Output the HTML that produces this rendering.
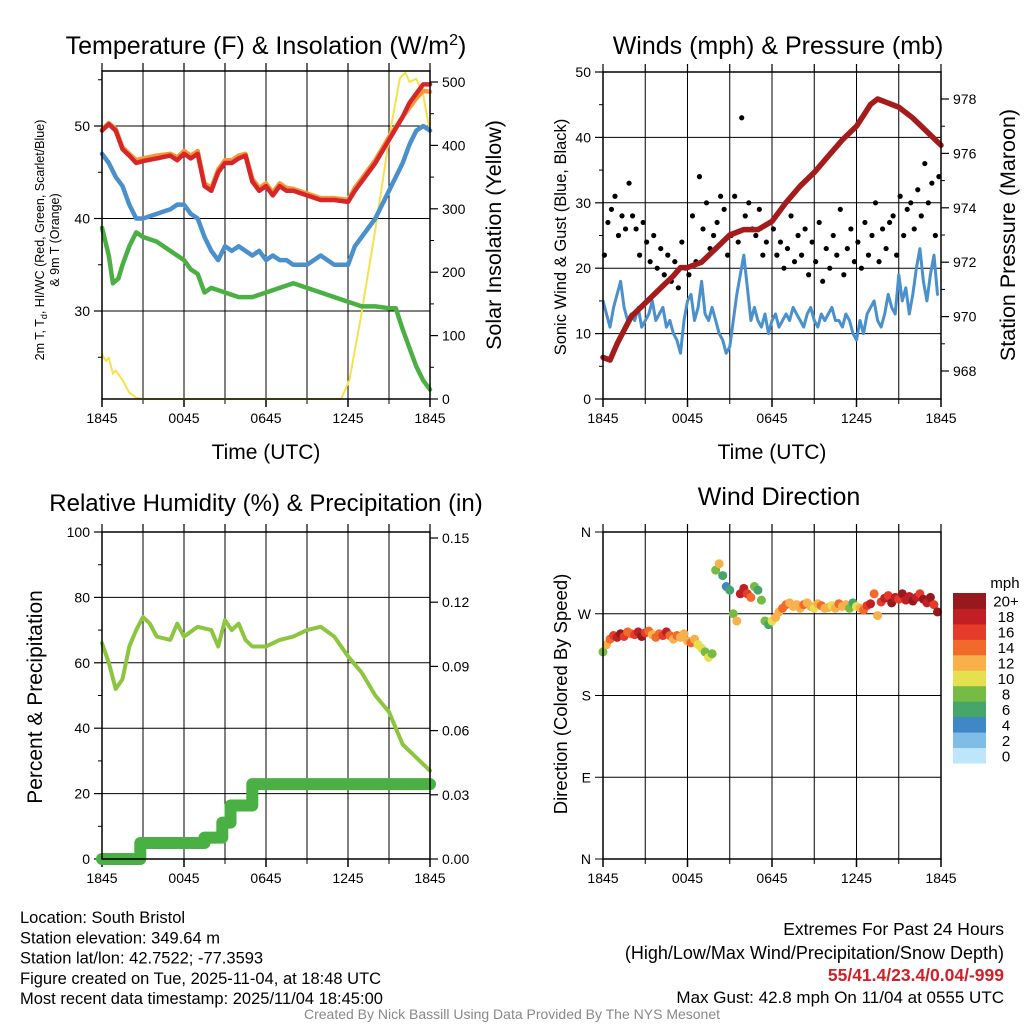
<!DOCTYPE html>
<html><head><meta charset="utf-8">
<style>
html,body{margin:0;padding:0;background:#fff;}
svg{display:block;font-family:"Liberation Sans",Arial,sans-serif;}
</style></head>
<body>
<svg id="s" width="1024" height="1024" viewBox="0 0 1024 1024" xmlns="http://www.w3.org/2000/svg"></svg>
<script>
// ---------- DATA ----------
const xTickLabels = ["1845","0045","0645","1245","1845"];
const tHours = [0,0.5,1,1.5,2,2.5,3,4,5,5.5,6,6.5,7,7.5,8,8.5,9,9.5,10,10.5,11,11.5,12,12.5,13,13.5,14,15,16,17,18,18.5,19,20,21,22,22.5,23,23.5,24];
const tempRed = [49.5,50.2,49.5,47.5,46.8,46,46.2,46.5,46.8,46.3,47,46.5,47,43.5,43,45,46,46,46.5,46.8,44,43,43.5,42.5,43.5,43,43,42.5,42,42,41.8,43,44,46,48.5,51,52.5,53.5,54.5,54.5];
const tempOrange = [49.6,50.3,49.7,47.7,47,46.3,46.5,46.8,47,46.6,47.3,46.8,47.3,43.8,43.3,45.3,46.3,46.3,46.8,47,44.3,43.3,43.8,42.8,43.8,43.3,43.2,42.7,42.2,42.2,42,43.3,44.3,46.3,48.8,51,52,53,53.8,53.7];
const chillBlue = [47,46,44.5,43.5,41.5,40,40,40.5,41,41.5,41.5,40.5,40,38,36.5,35.5,37,36.5,37,36.5,36,36.5,35.5,36,35.5,35.5,35,35,36,35,35,37,38,40,43,46,48,49.5,50,49.5];
const gHours = [0,0.5,0.8,1.2,1.5,2,2.5,3,4,5,6,6.5,7,7.5,8,9,10,11,12,13,14,15,16,17,18,19,20,21,21.5,22,22.5,23,23.5,24];
const dewGreen = [39,36,33,33.5,35,37,38.5,38,37.5,36.5,35.5,34.5,34,32,32.5,32,31.5,31.5,32,32.5,33,32.5,32,31.5,31,30.5,30.5,30.3,30.3,28,26,24,22.5,21.5];
const sHours = [0,0.3,0.5,0.8,1,1.5,2,2.5,3,17.5,18.1,18.9,20,21.1,21.8,22.2,22.5,23,23.5,24];
const solar = [70,60,65,40,45,30,10,2,0,0,30,124,267,424,506,515,500,505,480,420];
const tempTicks = [30,40,50];
const solarTicks = [0,100,200,300,400,500];

const windSpeed = [15,13,11,14,16,18,14,12, 13,12,14,11,12,13,15,12, 13,14,11,12,10,9,7,12, 15,16,12,14,18,13,12,14, 12,10,9,7,8,12,16,19, 22,17,12,14,12,11,13,10, 12,13,11,12,13,12,14,13, 12,11,13,14,12,11,13,12, 13,14,12,12,11,13,12,10, 9,12,10,13,14,15,12,11, 13,16,14,13,19,15,17,13, 16,20,23,18,15,19,22,16];
const windGust = [22,27,29,31,25,28,26,33, 28,26,22,27,24,21,25,20, 23,19,22,18,21,17,24,20, 19,28,21,34,26,30,23,25, 27,31,29,22,25,31,24,43, 28,30,26,25,29,22,24,27, 26,22,24,20,23,28,21,25, 22,26,19,24,21,27,18,23, 20,25,22,29,19,23,26,21, 24,20,27,22,25,30,21,26, 23,27,28,22,31,25,29,30, 26,32,28,36,30,33,25,34];
const pHours = [0,0.5,1,1.5,2,3,4,5,5.5,6,7,8,9,10,11,12,13,14,15,16,17,18,19,19.5,20,21,22,23,24];
const pressure = [968.5,968.4,969,969.5,970,970.5,971,971.5,971.8,971.8,972,972.5,973,973.2,973.2,973.5,974.2,974.8,975.3,975.9,976.5,977,977.8,978,977.9,977.7,977.3,976.8,976.3];
const windTicks = [0,10,20,30,40,50];
const presTicks = [968,970,972,974,976,978];

const rhHours = [0,0.5,1,1.5,2,2.5,3,3.5,4,5,5.5,6,7,8,8.5,9,9.5,10,10.5,11,12,13,14,15,16,17,18,19,20,21,21.5,22,23,24];
const rh = [66,60,52,55,65,70,74,72,68,67,72,68,71,70,65,73,70,72,67,65,65,67,68,70,71,68,62,57,50,45,40,35,31,27];
const precipHours = [0,2.8,2.8,7.5,7.5,8.8,8.8,9.4,9.4,11,11,24];
const precip = [0,0,0.0075,0.0075,0.01,0.01,0.017,0.017,0.025,0.025,0.035,0.035];
const rhTicks = [0,20,40,60,80,100];
const precipTicks = [0,0.03,0.06,0.09,0.12,0.15];

const windDir = [228,236,242,246,244,248,245,250, 248,247,250,245,249,251,247,244, 248,246,250,246,242,246,244,248, 240,238,242,236,232,228,222,226, 318,325,312,300,296,270,262,292, 298,292,288,300,296,285,262,258, 262,266,272,276,280,282,278,280, 276,280,282,278,276,281,279,276, 277,279,276,281,278,280,276,282, 278,276,274,279,281,292,268,283, 287,290,282,288,286,292,285,289, 284,288,292,286,282,288,280,272];
const dirColorSpeed = [8,12,14,16,18,20,16,14, 14,16,18,20,16,14,12,14, 14,16,18,14,12,14,12,12, 12,14,12,10,10,8,10,8, 8,12,6,4,6,8,12,18, 18,16,14,8,6,8,8,6, 10,12,12,14,14,12,12,12, 12,14,12,12,10,12,14,12, 12,10,12,14,12,12,8,6, 10,12,14,16,18,14,12,16, 18,16,20,18,16,20,18,18, 20,18,16,20,18,20,16,20];
const dirLabels = ["N","E","S","W","N"];
const legendLabels = ["0","2","4","6","8","10","12","14","16","18","20+"];
const legendColors = ["#bde6fa","#7fbde6","#3f88c5","#46a56a","#75bb44","#e6e04f","#f8b04a","#f26a2b","#e63a2b","#c01f26","#96191e"];

// ---------- HELPERS ----------
const svg = document.getElementById('s');
const NS = "http://www.w3.org/2000/svg";
function mk(tag, attrs, parent){
  const e = document.createElementNS(NS, tag);
  for (const k in attrs) e.setAttribute(k, attrs[k]);
  (parent||svg).appendChild(e);
  return e;
}
function txt(str, x, y, size, anchor, parent, extra){
  const t = mk('text', Object.assign({x:x,y:y,'font-size':size,'text-anchor':anchor||'middle',fill:'#000'}, extra||{}), parent);
  t.textContent = str;
  return t;
}
function lin(d0,d1,r0,r1){ return v => r0 + (v-d0)/(d1-d0)*(r1-r0); }
function poly(xs, ys, sx, sy, color, w, name, parent){
  let pts = xs.map((x,i)=>sx(x).toFixed(1)+','+sy(ys[i]).toFixed(1)).join(' ');
  const p = mk('polyline',{points:pts,fill:'none',stroke:color,'stroke-width':w,'stroke-linejoin':'round','stroke-linecap':'round'},parent);
  
  
  return p;
}
function frame(L,T,R,B,name){
  const g = mk('g',{});
  
  
  const sx = lin(0,24,L,R);
  for (let h=3; h<24; h+=3) mk('line',{x1:sx(h),x2:sx(h),y1:T,y2:B,stroke:'#000','stroke-width':1},g);
  for (let h=0; h<=24; h+=3) mk('line',{x1:sx(h),x2:sx(h),y1:T,y2:T-8,stroke:'#000','stroke-width':1.2},g);
  xTickLabels.forEach((lab,i)=>{
    const x = sx(i*6);
    mk('line',{x1:x,x2:x,y1:B,y2:B+8,stroke:'#000','stroke-width':1.5},g);
    txt(lab,x,B+24,14,'middle',g);
  });
  for (let h=3; h<24; h+=6) mk('line',{x1:sx(h),x2:sx(h),y1:B,y2:B+5,stroke:'#000'},g);
  return {g:g, sx:sx};
}
function border(L,T,R,B){
  mk('rect',{x:L,y:T,width:R-L,height:B-T,fill:'none',stroke:'#000','stroke-width':1.5});
}
function yAxis(ticks, s, x, dir, g, fmt){
  ticks.forEach(v=>{
    const y = s(v);
    mk('line',{x1:x,x2:x+dir*8,y1:y,y2:y,stroke:'#000','stroke-width':1.2},g);
    txt(fmt?fmt(v):String(v), x+dir*12, y+5, 14, dir<0?'end':'start', g);
  });
}

// ---------- PANEL 1: Temperature ----------
(function(){
  const L=102,T=71,R=430,B=399;
  const f = frame(L,T,R,B,'temperature-panel');
  const sx=f.sx, g=f.g;
  const sy = lin(30,50,311,126);
  const sr = lin(0,500,399,82);
  tempTicks.forEach(v=>mk('line',{x1:L,x2:R,y1:sy(v),y2:sy(v),stroke:'#000'},g));
  yAxis(tempTicks, sy, L, -1, g);
  [25,35,45,55].forEach(v=>mk('line',{x1:L,x2:L-4,y1:sy(v),y2:sy(v),stroke:'#000'},g));
  yAxis(solarTicks, sr, R, 1, g);
  [50,150,250,350,450].forEach(v=>mk('line',{x1:R,x2:R+4,y1:sr(v),y2:sr(v),stroke:'#000'},g));
  poly(sHours, solar, sx, sr, '#f7e14b', 2, 'solar-insolation-line', g);
  poly(gHours, dewGreen, sx, sy, '#4bb043', 4.5, 'dewpoint-line', g);
  poly(tHours, chillBlue, sx, sy, '#4a90cc', 4.5, 'windchill-line', g);
  poly(tHours, tempOrange, sx, sy, '#f59a35', 4.5, 'temp-9m-line', g);
  poly(tHours, tempRed, sx, sy, '#d6262a', 4.5, 'temp-2m-line', g);
  border(L,T,R,B);
  const t = txt('',266,54,25,'middle');  
  t.innerHTML = 'Temperature (F) &amp; Insolation (W/m<tspan dy="-9" font-size="16">2</tspan><tspan dy="9">)</tspan>';
  const xl = txt('Time (UTC)',266,459,21,'middle');  
  const yl = mk('text',{transform:'translate(44,240) rotate(-90)','font-size':12.5,'text-anchor':'middle'});
   
  yl.innerHTML = '<tspan x="0" y="0">2m T, T<tspan font-size="9" dy="3">d</tspan><tspan dy="-3">, HI/WC (Red, Green, Scarlet/Blue)</tspan></tspan><tspan x="0" y="15">&amp; 9m T (Orange)</tspan>';
  const yr = txt('Solar Insolation (Yellow)',0,0,21.5,'middle',null,{transform:'translate(501,235) rotate(-90)'});
   
})();

// ---------- PANEL 2: Winds ----------
(function(){
  const L=603,T=72,R=941,B=399;
  const f = frame(L,T,R,B,'winds-panel');
  const sx=f.sx, g=f.g;
  const sy = lin(0,50,399,72);
  const sp = lin(968,978,371,99);
  windTicks.forEach(v=>mk('line',{x1:L,x2:R,y1:sy(v),y2:sy(v),stroke:'#000'},g));
  yAxis(windTicks, sy, L, -1, g);
  [5,15,25,35,45].forEach(v=>mk('line',{x1:L,x2:L-4,y1:sy(v),y2:sy(v),stroke:'#000'},g));
  yAxis(presTicks, sp, R, 1, g);
  [969,971,973,975,977].forEach(v=>mk('line',{x1:R,x2:R+4,y1:sp(v),y2:sp(v),stroke:'#000'},g));
  const wh = windSpeed.map((_,i)=>i*0.25);
  poly(wh, windSpeed, sx, sy, '#4a90cc', 3, 'sonic-wind-line', g);
  windGust.forEach((v,i)=>{
    const c = mk('circle',{cx:sx(i*0.25+0.1),cy:sy(v),r:2.6,fill:'#000'},g);
    
    
  });
  poly(pHours, pressure, sx, sp, '#a51b1b', 5.5, 'pressure-line', g);
  border(L,T,R,B);
  const t = txt('Winds (mph) & Pressure (mb)',778,54,25,'middle');  
  const xl = txt('Time (UTC)',772,459,21,'middle');  
  const yl = txt('Sonic Wind & Gust (Blue, Black)',0,0,16.5,'middle',null,{transform:'translate(566,237) rotate(-90)'});
   
  const yr = txt('Station Pressure (Maroon)',0,0,21.5,'middle',null,{transform:'translate(1015,235) rotate(-90)'});
   
})();

// ---------- PANEL 3: RH & Precip ----------
(function(){
  const L=102,T=532,R=430,B=859;
  const f = frame(L,T,R,B,'humidity-panel');
  const sx=f.sx, g=f.g;
  const sy = lin(0,100,859,532);
  const sp = lin(0,0.15,859,538);
  rhTicks.forEach(v=>{ if(v>0&&v<100) mk('line',{x1:L,x2:R,y1:sy(v),y2:sy(v),stroke:'#000'},g); });
  yAxis(rhTicks, sy, L, -1, g);
  [10,30,50,70,90].forEach(v=>mk('line',{x1:L,x2:L-4,y1:sy(v),y2:sy(v),stroke:'#000'},g));
  yAxis(precipTicks, sp, R, 1, g, v=>v.toFixed(2));
  poly(precipHours, precip, sx, sp, '#4bb043', 12, 'precip-line', g);
  poly(rhHours, rh, sx, sy, '#8cc63f', 4, 'rh-line', g);
  border(L,T,R,B);
  const t = txt('Relative Humidity (%) & Precipitation (in)',266,511,24,'middle');  
  const yl = txt('Percent & Precipitation',0,0,21,'middle',null,{transform:'translate(42,697) rotate(-90)'});
   
})();

// ---------- PANEL 4: Wind direction ----------
(function(){
  const L=603,T=532,R=941,B=859;
  const f = frame(L,T,R,B,'wind-direction-panel');
  const sx=f.sx, g=f.g;
  const sy = lin(0,360,859,532);
  dirLabels.forEach((lab,i)=>{
    const y = sy(i*90);
    mk('line',{x1:L-8,x2:R,y1:y,y2:y,stroke:'#000'},g);
    txt(lab,L-12,y+5,14,'end',g);
  });
  windDir.forEach((d,i)=>{
    const ci = Math.min(10, Math.round(dirColorSpeed[i]/2));
    const c = mk('circle',{cx:sx(i*0.25),cy:sy(d),r:4.5,fill:legendColors[ci]},g);
    
    
  });
  border(L,T,R,B);
  const t = txt('Wind Direction',779,505,25,'middle');  
  const yl = txt('Direction (Colored By Speed)',0,0,18.5,'middle',null,{transform:'translate(567,694) rotate(-90)'});
   
  const lg = mk('g',{});
  
  
  txt('mph',1005,588,15,'middle',lg);
  const bh = (763-593)/11;
  legendColors.forEach((c,i)=>{
    const y = 763 - (i+1)*bh;
    const r = mk('rect',{x:953,y:y,width:33,height:bh+0.5,fill:c},lg);
    
    
    txt(legendLabels[i],1006,y+bh/2+6,15,'middle',lg);
  });
})();

// ---------- FOOTER ----------
(function(){
  const g = mk('g',{});
  
  
  const lines = ['Location: South Bristol','Station elevation: 349.64 m','Station lat/lon: 42.7522; -77.3593','Figure created on Tue, 2025-11-04, at 18:48 UTC','Most recent data timestamp: 2025/11/04 18:45:00'];
  lines.forEach((s,i)=>txt(s,20,923+i*20.3,16.5,'start',g));
  const g2 = mk('g',{});
  
  
  txt('Extremes For Past 24 Hours',1004,935,17.5,'end',g2);
  txt('(High/Low/Max Wind/Precipitation/Snow Depth)',1004,959,18,'end',g2);
  txt('55/41.4/23.4/0.04/-999',1004,981,17.5,'end',g2,{fill:'#d12027','font-weight':'bold'});
  txt('Max Gust: 42.8 mph On 11/04 at 0555 UTC',1004,1003,17,'end',g2);
  const c = txt('Created By Nick Bassill Using Data Provided By The NYS Mesonet',512,1019,14,'middle',null,{fill:'#888'});
  
  
})();
</script>
</body></html>
